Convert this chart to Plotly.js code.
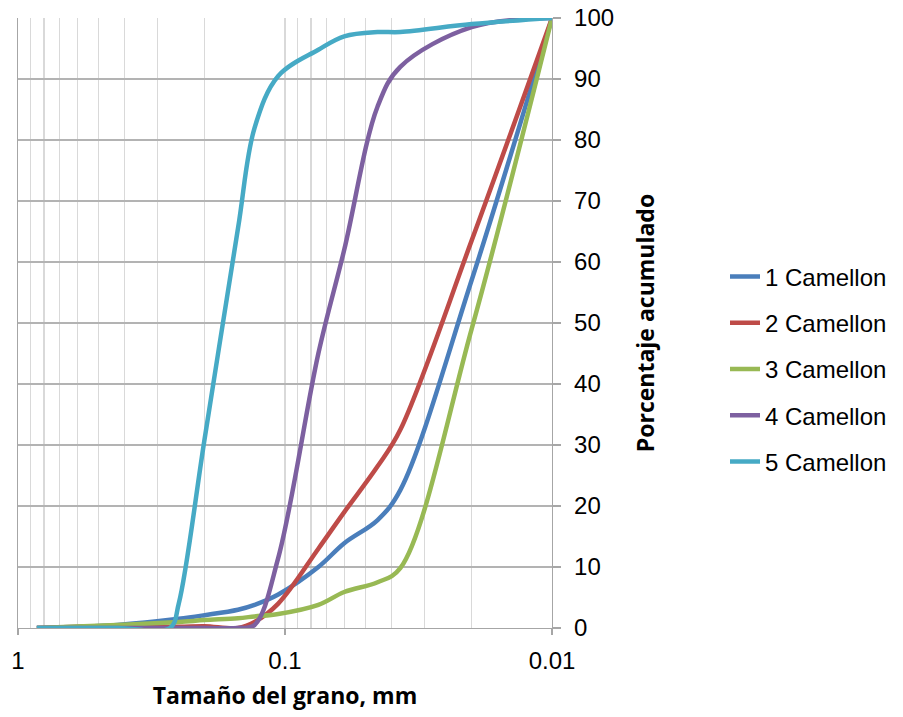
<!DOCTYPE html>
<html>
<head>
<meta charset="utf-8">
<script src="https://cdn.plot.ly/plotly-3.0.1.min.js"></script>
<style>html,body{margin:0;padding:0;background:#fff}#chart{width:903px;height:717px}</style>
</head>
<body>
<div id="chart"></div>
<script>
// Grain size (mm) at which curves 1-4 were read
const sizes = [0.85, 0.425, 0.25, 0.2, 0.15, 0.13, 0.106, 0.075, 0.06, 0.045, 0.037, 0.02, 0.01];
// Grain size (mm) at which curve 5 was read (steeper start)
const sizes5 = [0.85, 0.425, 0.27, 0.25, 0.2, 0.15, 0.13, 0.106, 0.075, 0.06, 0.045, 0.037, 0.02, 0.01];
// Cumulative percentage per series
const camellon1 = [0, 0.5, 1.5, 2.1, 3, 3.8, 5.5, 10, 13.9, 17.7, 22.6, 57, 100];
const camellon2 = [0, 0.3, 0.2, 0.3, 0, 1, 4, 13, 19, 26.5, 32.5, 63.5, 100];
const camellon3 = [0, 0.5, 1, 1.3, 1.6, 1.9, 2.3, 3.8, 5.9, 7.5, 9.8, 49, 100];
const camellon4 = [0, 0, 0, 0, 0, 0.5, 11.5, 45, 62, 85.5, 92, 98.5, 100];
const camellon5 = [0, 0, 0, 4, 31, 65.5, 82, 90.5, 94.8, 97, 97.7, 97.7, 99, 100];
const seriesNames = ['1 Camellon', '2 Camellon', '3 Camellon', '4 Camellon', '5 Camellon'];
const seriesColors = ['#4A7EBB', '#BE4B48', '#98B954', '#7D60A0', '#46AAC5'];
const xTickVals = [1, 0.1, 0.01];
const xTickText = ['1', '0.1', '0.01'];

const allSeries = [camellon1, camellon2, camellon3, camellon4, camellon5];
const allSizes = [sizes, sizes, sizes, sizes, sizes5];
const traces = allSeries.map((vals, i) => ({
  type: 'scatter',
  mode: 'lines',
  x: allSizes[i],
  y: vals,
  name: seriesNames[i],
  legendgroup: 'g' + i,
  line: {color: seriesColors[i], width: 4.5, shape: 'spline', smoothing: 1}
}));

const layout = {
  width: 903, height: 717,
  margin: {l: 18, r: 350, t: 18, b: 89},
  paper_bgcolor: '#fff', plot_bgcolor: '#fff',
  font: {family: '"Liberation Sans", Arial, sans-serif', size: 24, color: '#000'},
  showlegend: true,
  legend: {
    x: 1.3215, xanchor: 'left', y: 0.4246, yanchor: 'middle',
    font: {family: '"Liberation Sans", Arial, sans-serif', size: 24, color: '#000'},
    traceorder: 'grouped', tracegroupgap: 12, itemwidth: 30,
    bgcolor: 'rgba(0,0,0,0)'
  },
  xaxis: {
    type: 'log', range: [0, -2],
    tickmode: 'array', tickvals: xTickVals, ticktext: xTickText,
    ticks: 'outside', ticklen: 6, tickcolor: '#a6a6a6', tickwidth: 1.3,
    ticklabelstandoff: 5,
    showgrid: true, gridcolor: '#d9d9d9', gridwidth: 1.3,
    minor: {dtick: 'D1', showgrid: true, gridcolor: '#d9d9d9', gridwidth: 1.3, ticks: ''},
    showline: true, linecolor: '#a6a6a6', linewidth: 1.3,
    zeroline: false,
    tickfont: {family: '"Liberation Sans", Arial, sans-serif', size: 24, color: '#000'},
    title: {text: 'Tamaño del grano, mm', font: {family: '"Open Sans", sans-serif', size: 23, color: '#000', weight: 'bold'}, standoff: 14}
  },
  yaxis: {
    side: 'right', range: [0, 100], dtick: 10, tick0: 0,
    ticks: 'outside', ticklen: 8, tickcolor: '#a6a6a6', tickwidth: 1.3,
    ticklabelstandoff: 8,
    showgrid: true, gridcolor: '#b3b3b3', gridwidth: 1.3,
    showline: true, mirror: true, linecolor: '#a6a6a6', linewidth: 1.3,
    zeroline: false,
    tickfont: {family: '"Liberation Sans", Arial, sans-serif', size: 24, color: '#000'},
    title: {text: 'Porcentaje acumulado', font: {family: '"Open Sans", sans-serif', size: 23, color: '#000', weight: 'bold'}, standoff: 24}
  }
};

Plotly.newPlot('chart', traces, layout, {displayModeBar: false, staticPlot: true});
</script>
</body>
</html>
